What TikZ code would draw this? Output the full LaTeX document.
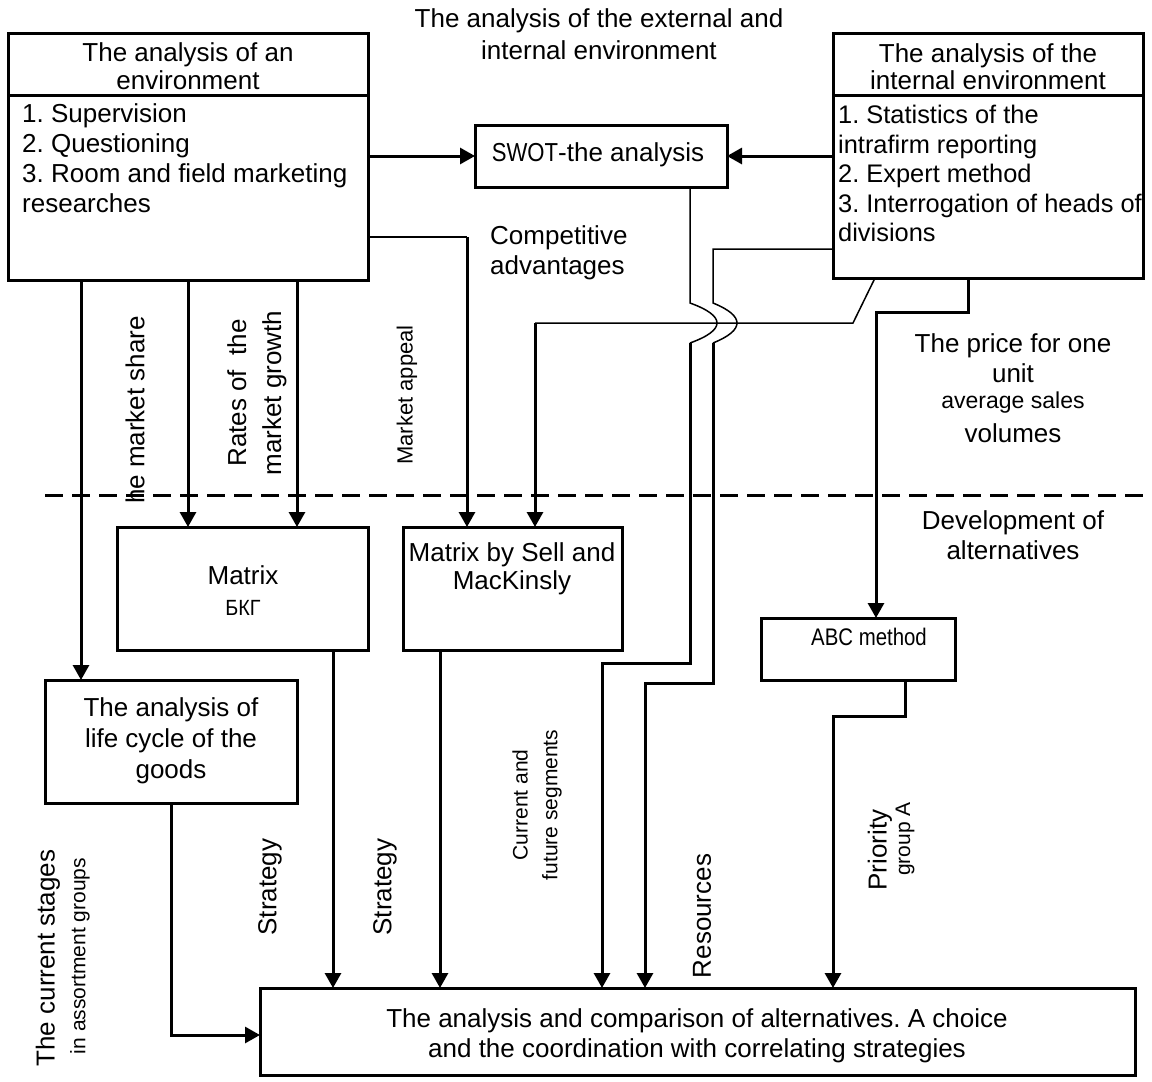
\documentclass[tikz,border=0pt]{standalone}
\usepackage{fontspec}
\setmainfont{Liberation Sans}
\usetikzlibrary{arrows.meta}
\newcommand\fsz[2]{\fontsize{#1}{#2}\selectfont}
\frenchspacing
\begin{document}
\begin{tikzpicture}[x=1pt,y=-1pt,
  box/.style={draw, line width=3pt, inner sep=0pt, outer sep=0pt, anchor=north west},
  txt/.style={inner sep=0pt, font=\fsz{26}{30}},
  arr/.style={line width=3pt, -{Triangle[length=15pt,width=16pt]}},
  thk/.style={line width=3pt},
  thn/.style={line width=1.5pt},
  ]
\useasboundingbox (0,0) rectangle (1152,1082);
\fill[white] (0,0) rectangle (1152,1082);

% boxes
\node[box, minimum width=360pt, minimum height=247pt] (env) at (8,33) {};
\draw[thk] ([yshift=-62pt]env.north west) -- ([yshift=-62pt]env.north east);
\node[box, minimum width=310pt, minimum height=245pt] (int) at (833,33) {};
\draw[thk] ([yshift=-62pt]int.north west) -- ([yshift=-62pt]int.north east);
\node[box, minimum width=252pt, minimum height=62pt] (swot) at (475,125) {};
\node[box, minimum width=251pt, minimum height=123pt] (bkg) at (117,527) {};
\node[box, minimum width=219pt, minimum height=123pt] (sell) at (403,527) {};
\node[box, minimum width=194pt, minimum height=62pt] (abc) at (761,618) {};
\node[box, minimum width=252pt, minimum height=123pt] (life) at (45,680) {};
\node[box, minimum width=875pt, minimum height=87pt] (final) at (260,988) {};

% texts in boxes
\node[txt, align=center, anchor=north, font=\fsz{26}{28}] (envh) at (188,42) {The analysis of an\\environment};
\node[txt, align=left, anchor=north west] (envb) at (22,103) {1. Supervision\\2. Questioning\\3. Room and field marketing\\researches};
\node[txt, align=center, anchor=north, font=\fsz{26}{27}] (inth) at (988,43) {The analysis of the\\internal environment};
\node[txt, align=left, anchor=north west, font=\fsz{25.4}{29.5}] (intb) at (838,105) {1. Statistics of the\\intrafirm reporting\\2. Expert method\\3. Interrogation of heads of\\divisions};
\node[txt] (swott) at (598,155) {\scalebox{0.85}[1]{SWOT}-the analysis};
\node[txt] (bkgt1) at (243,575) {Matrix};
\node[txt, font=\fsz{22}{26}] (bkgt2) at (243,608) {\scalebox{0.9}[1]{БКГ}};
\node[txt, align=center, anchor=north, font=\fsz{26}{28}] (sellt) at (512,542) {Matrix by Sell and\\MacKinsly};
\node[txt, font=\fsz{24}{28}] (abct) at (869,637) {\scalebox{0.85}[1]{ABC method}};
\node[txt, align=center, anchor=north, font=\fsz{26}{31}] (lifet) at (171,697) {The analysis of\\life cycle of the\\goods};
\node[txt, align=center, anchor=north] (finalt) at (697,1008) {The analysis and comparison of alternatives. A choice\\and the coordination with correlating strategies};

% free texts
\node[txt, align=center, anchor=north, font=\fsz{26}{32}] (title) at (599,8) {The analysis of the external and\\internal environment};
\node[txt, align=left, anchor=north west] (comp) at (490,225) {Competitive\\advantages};
\node[txt, align=center, anchor=north] (price1) at (1013,333) {The price for one\\unit};
\node[txt, font=\fsz{23}{27}] (price2) at (1013,403) {average sales};
\node[txt] (price3) at (1013,433) {volumes};
\node[txt, align=center, anchor=north] (devel) at (1013,510) {Development of\\alternatives};

% rotated labels
\node[txt, rotate=90] (lshare) at (135,410) {he market share};
\node[txt, rotate=90, align=center, font=\fsz{26}{35}] (lrates) at (257,393) {Rates of\ \ the\\market growth};
\node[txt, rotate=90, font=\fsz{22}{26}] (lappeal) at (407,395) {Market appeal};
\node[txt, rotate=90, font=\fsz{21}{25}] (lseg1) at (520,805) {Current and};
\node[txt, rotate=90, font=\fsz{21}{25}] (lseg2) at (552,805) {future segments};
\node[txt, rotate=90] (lres) at (702,916) {Resources};
\node[txt, rotate=90] (lprio1) at (880,850) {Priority};
\node[txt, rotate=90, font=\fsz{21}{25}] (lprio2) at (905,839) {group A};
\node[txt, rotate=90] (lstage1) at (48,958) {The current stages};
\node[txt, rotate=90, font=\fsz{21}{25}] (lstage2) at (80,956) {in assortment groups};
\node[txt, rotate=90] (lstr1) at (270,887) {Strategy};
\node[txt, rotate=90] (lstr2) at (385,887) {Strategy};

% dashed separator
\draw[line width=3pt, dash pattern=on 18pt off 9pt] (45,495) -- (1152,495);

% connectors
\draw[arr] (env.east |- swot.west) -- (swot.west);
\draw[arr] (int.west |- swot.east) -- (swot.east);

\coordinate (xa) at (81,680);
\coordinate (xb) at (188,527);
\coordinate (xc) at (297,527);
\draw[arr] (env.south -| xa) -- (xa);
\draw[arr] (env.south -| xb) -- (xb);
\draw[arr] (env.south -| xc) -- (xc);

\coordinate (ka) at (467,237);
\draw[thn] (env.east |- ka) -- (ka);
\draw[arr] (ka) -- (ka |- sell.north);

\coordinate (kb) at (875,278);
\coordinate (kc) at (853,323);
\coordinate (kd) at (535,323);
\draw[thn] (int.south -| kb) -- (kc) -- (kd);
\draw[arr] (kd) -- (kd |- sell.north);

\coordinate (sa) at (690,303);
\coordinate (sb) at (690,343);
\coordinate (sc) at (690,663);
\coordinate (sd) at (602,663);
\draw[thn] (swot.south -| sa) -- (sa) .. controls (726,316) and (726,330) .. (sb);
\draw[arr] (sb) -- (sc) -- (sd) -- (sd |- final.north);

\coordinate (ta) at (713,249);
\coordinate (tb) at (713,303);
\coordinate (tc) at (713,343);
\coordinate (td) at (713,683);
\coordinate (te) at (645,683);
\draw[thn] (int.west |- ta) -- (ta) -- (tb) .. controls (745,316) and (745,330) .. (tc);
\draw[arr] (tc) -- (td) -- (te) -- (te |- final.north);

\coordinate (ua) at (968,312);
\coordinate (ub) at (876,312);
\draw[arr] (int.south -| ua) -- (ua) -- (ub) -- (ub |- abc.north);

\coordinate (va) at (905,716);
\coordinate (vb) at (833,716);
\draw[arr] (abc.south -| va) -- (va) -- (vb) -- (vb |- final.north);

\coordinate (wa) at (333,650);
\coordinate (wb) at (440,650);
\draw[arr] (bkg.south -| wa) -- (wa |- final.north);
\draw[arr] (sell.south -| wb) -- (wb |- final.north);

\coordinate (ya) at (171,1035);
\draw[arr] (life.south -| ya) -- (ya) -- (final.west |- ya);
\end{tikzpicture}
\end{document}
